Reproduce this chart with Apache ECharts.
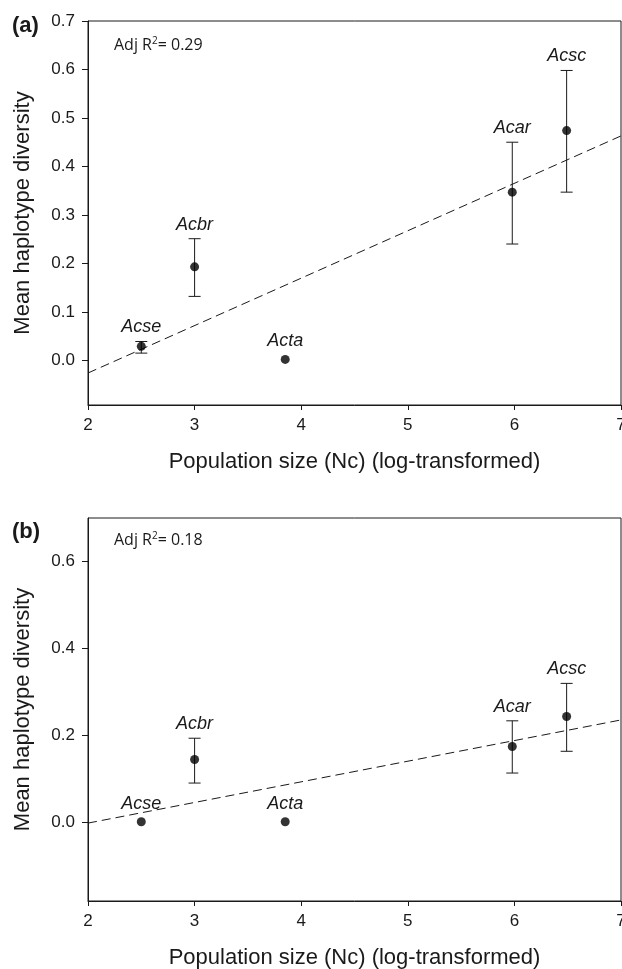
<!DOCTYPE html>
<html lang="en">
<head>
    <meta charset="UTF-8">
    <title>Mean haplotype diversity vs population size</title>
    <script src="https://cdn.jsdelivr.net/npm/echarts@6/dist/echarts.min.js"></script>
    <style>
        html, body { margin: 0; padding: 0; overflow: hidden; background: #fff; }
    </style>
</head>
<body>
    <div id="chart" style="width: 622px; height: 969px;"></div>

    <script>
        // #region data
        var species = ["Acse", "Acbr", "Acta", "Acar", "Acsc"]
        var logNc = [2.5, 3.0, 3.85, 5.98, 6.49]

        // panel (a)
        var hdA = [0.029, 0.193, 0.002, 0.347, 0.474]
        var hdALow = [0.015, 0.132, 0.002, 0.240, 0.347]
        var hdAHigh = [0.039, 0.251, 0.002, 0.450, 0.598]
        var fitA = [[2, -0.026], [7, 0.463]]

        // panel (b)
        var hdB = [0.002, 0.145, 0.002, 0.175, 0.244]
        var hdBLow = [0.002, 0.091, 0.002, 0.114, 0.164]
        var hdBHigh = [0.002, 0.194, 0.002, 0.234, 0.320]
        var fitB = [[2, -0.001], [7, 0.236]]

        var xTicks = [2, 3, 4, 5, 6, 7]
        var yTicksA = [0, 0.1, 0.2, 0.3, 0.4, 0.5, 0.6, 0.7]
        var yTicksB = [0, 0.2, 0.4, 0.6]
        // #endregion

        var font = "Liberation Sans, Arial, sans-serif"
        var ink = "#1a1a1a"

        function points(vals) {
            return logNc.map(function (x, i) { return [x, vals[i]] })
        }
        function bars(lo, hi) {
            return logNc.map(function (x, i) { return [x, lo[i], hi[i], species[i]] })
        }

        // error bars + italic species names
        function renderBar(params, api) {
            var x = api.value(0), lo = api.value(1), hi = api.value(2)
            var name = species[params.dataIndex]
            var pLo = api.coord([x, lo])
            var pHi = api.coord([x, hi])
            var st = { stroke: ink, lineWidth: 1 }
            var kids = []
            if (hi > lo) {
                kids.push({ type: "line", shape: { x1: pLo[0], y1: pLo[1], x2: pHi[0], y2: pHi[1] }, style: st })
                kids.push({ type: "line", shape: { x1: pLo[0] - 6, y1: pLo[1], x2: pLo[0] + 6, y2: pLo[1] }, style: st })
                kids.push({ type: "line", shape: { x1: pHi[0] - 6, y1: pHi[1], x2: pHi[0] + 6, y2: pHi[1] }, style: st })
            }
            kids.push({
                type: "text",
                style: {
                    text: name,
                    x: pHi[0],
                    y: pHi[1] - (hi > lo ? 5 : 9),
                    align: "center",
                    verticalAlign: "bottom",
                    font: "italic 18px " + font,
                    fill: ink
                }
            })
            return { type: "group", children: kids }
        }

        function xAxis(idx) {
            return {
                type: "value", gridIndex: idx, min: 2, max: 7, interval: 1,
                name: "Population size (Nc) (log-transformed)",
                nameLocation: "middle", nameGap: 46,
                nameTextStyle: { fontFamily: font, fontSize: 22, color: ink },
                axisLine: { show: true, onZero: false, lineStyle: { color: ink, width: 1 } },
                axisTick: { show: true, length: 5, customValues: xTicks, lineStyle: { color: ink } },
                axisLabel: { fontFamily: font, fontSize: 17, color: ink, margin: 12, customValues: xTicks },
                splitLine: { show: false }
            }
        }

        function yAxis(idx, min, ticks) {
            return {
                type: "value", gridIndex: idx, min: min, max: 0.7,
                name: "Mean haplotype diversity",
                nameLocation: "middle", nameGap: 54,
                nameTextStyle: { fontFamily: font, fontSize: 22, color: ink },
                axisLine: { show: true, onZero: false, lineStyle: { color: ink, width: 1 } },
                axisTick: { show: true, length: 6, customValues: ticks, lineStyle: { color: ink } },
                axisLabel: {
                    fontFamily: font, fontSize: 17, color: ink, margin: 13,
                    customValues: ticks,
                    formatter: function (v) { return v.toFixed(1) }
                },
                splitLine: { show: false }
            }
        }

        function panelSeries(idx, vals, lo, hi, fit) {
            return [
                {
                    type: "line", xAxisIndex: idx, yAxisIndex: idx, data: fit,
                    symbol: "none", silent: true,
                    lineStyle: { color: ink, width: 1, type: [9, 5] }
                },
                {
                    type: "custom", xAxisIndex: idx, yAxisIndex: idx,
                    data: bars(lo, hi), renderItem: renderBar,
                    encode: { x: 0, y: [1, 2] }, clip: false, z: 3
                },
                {
                    type: "scatter", xAxisIndex: idx, yAxisIndex: idx,
                    data: points(vals), symbol: "circle", symbolSize: 9,
                    itemStyle: { color: "#000" }, z: 4
                }
            ]
        }

        var adjStyle = {
            fontFamily: "Open Sans, sans-serif", fontSize: 16, fontWeight: "normal", color: ink,
            rich: { sup: { fontFamily: "Open Sans, sans-serif", fontSize: 10, verticalAlign: "top", padding: [0, 0, 9, 0], color: ink } }
        }

        var chart = echarts.init(document.getElementById("chart"))
        chart.setOption({
            animation: false,
            backgroundColor: "#fff",
            title: [
                { text: "(a)", left: 7, top: 10, textStyle: { fontFamily: font, fontSize: 22, fontWeight: "bold", color: ink } },
                { text: "Adj R{sup|2}= 0.29", left: 109, top: 31, textStyle: adjStyle },
                { text: "(b)", left: 7, top: 516, textStyle: { fontFamily: font, fontSize: 22, fontWeight: "bold", color: ink } },
                { text: "Adj R{sup|2}= 0.18", left: 109, top: 526, textStyle: adjStyle }
            ],
            grid: [
                { left: 88, right: 1, top: 21, height: 384, show: true, borderColor: ink, borderWidth: 1, outerBoundsMode: "none" },
                { left: 88, right: 1, top: 518, height: 383, show: true, borderColor: ink, borderWidth: 1, outerBoundsMode: "none" }
            ],
            xAxis: [xAxis(0), xAxis(1)],
            yAxis: [yAxis(0, -0.092, yTicksA), yAxis(1, -0.18, yTicksB)],
            series: panelSeries(0, hdA, hdALow, hdAHigh, fitA)
                .concat(panelSeries(1, hdB, hdBLow, hdBHigh, fitB))
        })
    </script>
</body>
</html>
